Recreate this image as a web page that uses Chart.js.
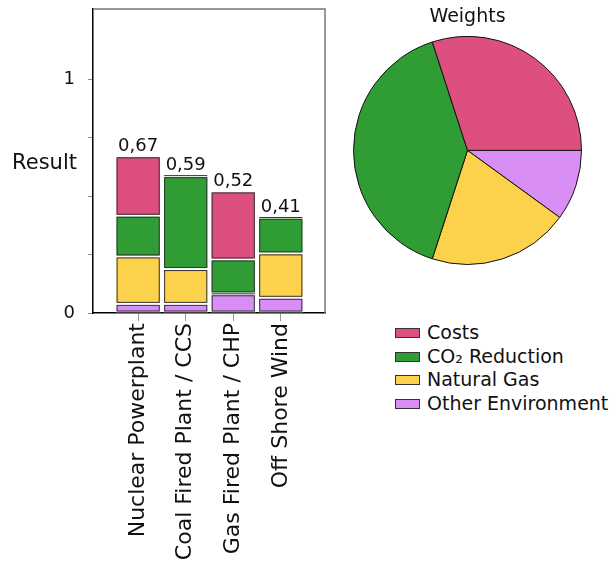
<!DOCTYPE html>
<html>
<head>
<meta charset="utf-8">
<script src="https://cdn.jsdelivr.net/npm/chart.js@4.4.1/dist/chart.umd.min.js"></script>
<style>
  body { margin: 0; background: #fff; font-family: "DejaVu Sans", sans-serif; }
  #wrap { position: relative; width: 615px; height: 570px; overflow: hidden; }
  #barChart { position: absolute; left: 0; top: 0; }
  #pieChart { position: absolute; left: 340px; top: 0; }
  #legend { position: absolute; left: 395px; top: 321px; font-size: 19px; color: #111; }
  #legend .row { height: 23.5px; line-height: 23.5px; white-space: nowrap; }
  #legend .box { display: inline-block; width: 23px; height: 8px; border: 1px solid #333; margin-right: 7px; vertical-align: 1px; }
</style>
</head>
<body>
<div id="wrap">
  <canvas id="barChart" width="340" height="570"></canvas>
  <canvas id="pieChart" width="280" height="280"></canvas>
  <div id="legend"></div>
</div>
<script>
// data
const plants = ['Nuclear Powerplant', 'Coal Fired Plant / CCS', 'Gas Fired Plant / CHP', 'Off Shore Wind'];
const totals = [0.67, 0.59, 0.52, 0.41];

const criteria = ['Costs', 'CO₂ Reduction', 'Natural Gas', 'Other Environment'];
const criteriaColors = ['#dc4f7e', '#2f9c34', '#fcd14b', '#d98ef6'];
const weights = [0.3, 0.4, 0.2, 0.1];

// contribution of each criterion per plant (bottom to top: other, gas, co2, costs)
const costs = [0.254, 0.005, 0.291, 0.003];
const co2 = [0.174, 0.397, 0.145, 0.152];
const naturalGas = [0.203, 0.149, 0.004, 0.190];
const otherEnv = [0.039, 0.039, 0.080, 0.065];

const yTitle = 'Result';
const pieTitle = 'Weights';

Chart.defaults.font.family = '"DejaVu Sans", sans-serif';
Chart.defaults.color = '#111';

function toPoints(values) {
  return values.map(function (v, i) { return { x: i, y: v }; });
}

const stackSeries = [
  { label: criteria[3], data: otherEnv, color: criteriaColors[3] },
  { label: criteria[2], data: naturalGas, color: criteriaColors[2] },
  { label: criteria[1], data: co2, color: criteriaColors[1] },
  { label: criteria[0], data: costs, color: criteriaColors[0] }
];

// outline each segment, leaving a thin white gap between them
const segmentOutline = {
  id: 'segmentOutline',
  afterDatasetsDraw(chart) {
    const ctx = chart.ctx;
    ctx.save();
    ctx.strokeStyle = '#333';
    ctx.lineWidth = 1;
    chart.data.datasets.forEach(function (ds, di) {
      chart.getDatasetMeta(di).data.forEach(function (el) {
        const p = el.getProps(['x', 'y', 'base', 'width'], true);
        const left = p.x - p.width / 2;
        const top = Math.min(p.y, p.base);
        const h = Math.abs(p.base - p.y);
        if (h > 3) {
          ctx.strokeRect(left + 1.5, top + 1.5, p.width - 3, h - 3);
        } else {
          ctx.beginPath();
          ctx.moveTo(left + 1, top + h / 2);
          ctx.lineTo(left + p.width - 1, top + h / 2);
          ctx.stroke();
        }
      });
    });
    ctx.restore();
  }
};

// totals above bars, frame, horizontal y title
const barExtras = {
  id: 'barExtras',
  afterDraw(chart) {
    const ctx = chart.ctx;
    const area = chart.chartArea;
    ctx.save();
    ctx.strokeStyle = '#777';
    ctx.lineWidth = 1.5;
    ctx.beginPath();
    ctx.moveTo(area.left, area.top);
    ctx.lineTo(area.right, area.top);
    ctx.lineTo(area.right, area.bottom);
    ctx.stroke();

    ctx.fillStyle = '#111';
    ctx.font = '21px "DejaVu Sans"';
    ctx.textAlign = 'right';
    ctx.textBaseline = 'middle';
    ctx.fillText(yTitle, area.left - 16, (area.top + area.bottom) / 2 + 3);

    const top = chart.getDatasetMeta(chart.data.datasets.length - 1).data;
    ctx.font = '18px "DejaVu Sans"';
    ctx.textAlign = 'center';
    ctx.textBaseline = 'bottom';
    top.forEach(function (el, i) {
      ctx.fillText(totals[i].toFixed(2).replace('.', ','), el.x, el.y - 1);
    });
    ctx.restore();
  }
};

var barChart = new Chart(document.getElementById('barChart'), {
  type: 'bar',
  data: {
    datasets: stackSeries.map(function (s) {
      return {
        label: s.label,
        data: toPoints(s.data),
        backgroundColor: s.color,
        borderColor: '#fff',
        borderWidth: 1,
        borderSkipped: false
      };
    })
  },
  options: {
    responsive: false,
    animation: false,
    layout: { padding: { top: 9, right: 15, left: 0, bottom: 0 } },
    categoryPercentage: 1,
    barPercentage: 0.95,
    plugins: { legend: { display: false }, tooltip: { enabled: false } },
    scales: {
      x: {
        type: 'linear',
        stacked: true,
        offset: false,
        min: -0.95,
        max: 3.93,
        afterBuildTicks: function (scale) {
          scale.ticks = plants.map(function (p, i) { return { value: i }; });
        },
        afterFit: function (scale) {
          scale.height = 257;
          scale.paddingLeft = 0;
          scale.paddingRight = 0;
        },
        grid: { drawOnChartArea: false, offset: false, color: '#999', tickLength: 8 },
        border: { color: '#000', width: 1.5 },
        ticks: {
          autoSkip: false,
          minRotation: 90,
          maxRotation: 90,
          padding: 2,
          color: '#111',
          font: { size: 22 },
          callback: function (v) { return plants[v]; }
        }
      },
      y: {
        stacked: true,
        min: 0,
        max: 1.3,
        afterBuildTicks: function (scale) {
          scale.ticks = scale.ticks.filter(function (t) { return t.value <= 1.25 + 1e-9; });
        },
        afterFit: function (scale) {
          scale.width = 93;
          scale.paddingTop = 0;
          scale.paddingBottom = 0;
        },
        grid: { drawOnChartArea: false, color: '#888', tickLength: 5 },
        border: { color: '#000', width: 1.5 },
        ticks: {
          stepSize: 0.25,
          autoSkip: false,
          padding: 13,
          color: '#111',
          font: { size: 18 },
          callback: function (v) { return v === 0 ? '0' : (v === 1 ? '1' : ''); }
        }
      }
    }
  },
  plugins: [segmentOutline, barExtras]
});

// pie is drawn clockwise from 3 o'clock, so the order is reversed
var pieChart = new Chart(document.getElementById('pieChart'), {
  type: 'pie',
  data: {
    labels: criteria.slice().reverse(),
    datasets: [{
      data: weights.slice().reverse(),
      backgroundColor: criteriaColors.slice().reverse(),
      borderColor: '#111',
      borderWidth: 1
    }]
  },
  options: {
    responsive: false,
    animation: false,
    rotation: 90,
    layout: { padding: { left: 13, right: 38, bottom: 15, top: 0 } },
    plugins: {
      legend: { display: false },
      tooltip: { enabled: false },
      title: {
        display: true,
        text: pieTitle,
        color: '#111',
        font: { size: 19, weight: 'normal' },
        padding: { top: 6, bottom: 7 }
      }
    }
  }
});

// legend
const legendEl = document.getElementById('legend');
criteria.forEach(function (name, i) {
  const row = document.createElement('div');
  row.className = 'row';
  const box = document.createElement('span');
  box.className = 'box';
  box.style.background = criteriaColors[i];
  row.appendChild(box);
  row.appendChild(document.createTextNode(name));
  legendEl.appendChild(row);
});
</script>
</body>
</html>
